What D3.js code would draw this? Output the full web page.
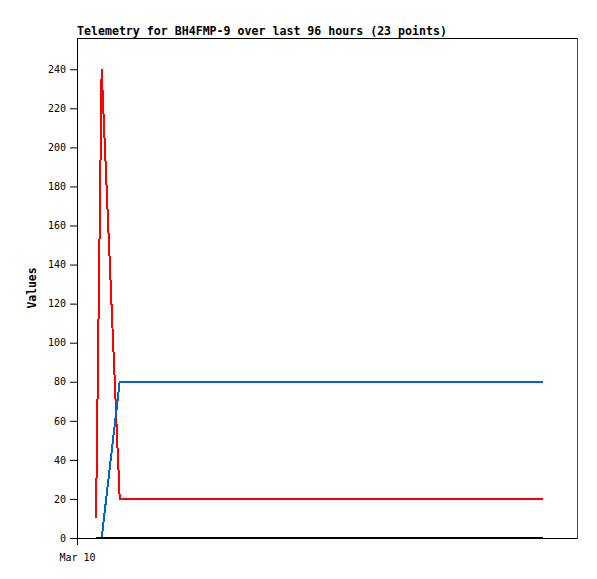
<!DOCTYPE html>
<html><head><meta charset="utf-8">
<script src="https://cdn.jsdelivr.net/npm/d3@7"></script>
<style>
body{margin:0;background:#fff;}
svg{display:block;}
</style></head>
<body>
<svg id="chart" width="597" height="579"></svg>
<script>
const title = "Telemetry for BH4FMP-9 over last 96 hours (23 points)";
const yLabel = "Values";
const domainStart = "2024-03-10T00:00";
const domainEnd = "2024-03-14T00:00";
const xTickLabels = ["Mar 10"];
const yTicks = [0,20,40,60,80,100,120,140,160,180,200,220,240];
const times = ["2024-03-10T03:39","2024-03-10T03:52","2024-03-10T04:05","2024-03-10T04:18","2024-03-10T04:31","2024-03-10T04:44","2024-03-10T04:57","2024-03-10T05:10","2024-03-10T05:23","2024-03-10T05:36","2024-03-10T05:49","2024-03-10T06:02","2024-03-10T06:15","2024-03-10T06:28","2024-03-10T06:41","2024-03-10T06:54","2024-03-10T07:07","2024-03-10T07:20","2024-03-10T07:33","2024-03-10T07:46","2024-03-10T07:59","2024-03-10T08:12","2024-03-13T17:30"];
const redValues = [10,56,102,148,194,240,226,212,199,185,171,157,144,130,116,102,89,75,61,47,34,20,20];
const blueValues = [0,0,0,0,0,0,5,10,15,20,25,30,35,40,45,50,55,60,65,70,75,80,80];
const blackValues = [0,0,0,0,0,0,0,0,0,0,0,0,0,0,0,0,0,0,0,0,0,0,0];
const seriesColors = ["#ff0000","#0066cc","#000000"];

const parse = d3.timeParse("%Y-%m-%dT%H:%M");
const svg = d3.select("#chart");
const L=77, R=577, T=38, B=538;
const x = d3.scaleTime().domain([parse(domainStart), parse(domainEnd)]).range([L,R]);
const y = d3.scaleLinear().domain([0,256]).range([B,T]);
const mono = "'DejaVu Sans Mono', monospace";

svg.append("text").attr("x",L).attr("y",35).attr("font-family",mono).attr("font-weight","bold")
  .attr("font-size","11.6px").attr("fill","#000").text(title);

// frame top/right
svg.append("line").attr("x1",L).attr("x2",R).attr("y1",T+0.5).attr("y2",T+0.5).attr("stroke","#000").attr("shape-rendering","crispEdges");
svg.append("line").attr("x1",R+0.5).attr("x2",R+0.5).attr("y1",T).attr("y2",B+1).attr("stroke","#444").attr("shape-rendering","crispEdges");

// data lines
const pts = times.map(parse);
const line = d3.line().x(d=>x(d[0])).y(d=>y(d[1]));
[redValues, blueValues, blackValues].forEach((vals,i)=>{
  svg.append("path").datum(pts.map((t,j)=>[t,vals[j]]))
    .attr("d",line).attr("fill","none").attr("stroke",seriesColors[i])
    .attr("stroke-width",2).attr("shape-rendering","crispEdges");
});

// y axis
const yAxis = d3.axisLeft(y).tickValues(yTicks).tickSize(7).tickPadding(4).tickFormat(d3.format("d"));
const gy = svg.append("g").attr("transform",`translate(${L},0)`).call(yAxis);
gy.select(".domain").remove();
gy.append("line").attr("x1",0.5).attr("x2",0.5).attr("y1",T).attr("y2",B+1).attr("stroke","#000");
gy.selectAll(".tick line").attr("stroke","#000");
gy.selectAll(".tick text").attr("font-family",mono).attr("font-size","10px").attr("fill","#000");

// x axis
const xAxis = d3.axisBottom(x).tickValues([parse(domainStart)]).tickSize(7).tickPadding(9)
  .tickFormat((d,i)=>xTickLabels[i]);
const gx = svg.append("g").attr("transform",`translate(0,${B})`).call(xAxis);
gx.select(".domain").remove();
gx.append("line").attr("x1",L).attr("x2",R).attr("y1",0.5).attr("y2",0.5).attr("stroke","#000");
gx.selectAll(".tick line").attr("stroke","#000");
gx.selectAll(".tick text").attr("font-family",mono).attr("font-size","10px").attr("fill","#000");

svg.append("text").attr("transform",`translate(36,${(T+B)/2}) rotate(-90)`).attr("text-anchor","middle")
  .attr("font-family",mono).attr("font-weight","bold").attr("font-size","11.4px").attr("fill","#000").text(yLabel);
</script>
</body></html>
